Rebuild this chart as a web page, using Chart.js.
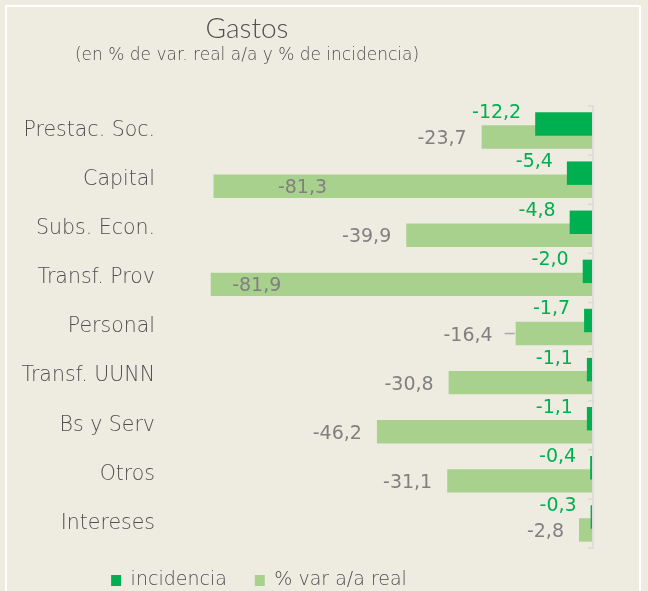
<!DOCTYPE html>
<html>
<head>
<meta charset="utf-8">
<script src="https://cdn.jsdelivr.net/npm/chart.js@4.4.1/dist/chart.umd.min.js"></script>
<style>
  html, body { margin: 0; padding: 0; background: #EEECE1; }
  #wrap { position: relative; width: 648px; height: 591px; overflow: hidden; }
  #frame { position: absolute; left: 5px; top: 5px; width: 632px; height: 640px; border: 2px solid #FFFFFF; }
  canvas { position: absolute; left: 0; top: 0; }
</style>
</head>
<body>
<div id="wrap">
  <div id="frame"></div>
  <canvas id="c" width="648" height="591"></canvas>
</div>
<script>
const categories = ['Prestac. Soc.', 'Capital', 'Subs. Econ.', 'Transf. Prov', 'Personal', 'Transf. UUNN', 'Bs y Serv', 'Otros', 'Intereses'];
const incidencia = [-12.2, -5.4, -4.8, -2.0, -1.7, -1.1, -1.1, -0.4, -0.3];
const varReal = [-23.7, -81.3, -39.9, -81.9, -16.4, -30.8, -46.2, -31.1, -2.8];
const seriesNames = ['incidencia', '% var a/a real'];

const DARK = '#00B050';
const LIGHT = '#A9D18E';
const GRAY = '#808080';
const TEXT = '#4F4F4F';
const FONT = '"DejaVu Sans", sans-serif';
const TFONT = 'Lato, "DejaVu Sans", sans-serif';

const fmt = v => v.toFixed(1).replace('.', ',');

const canvas = document.getElementById('c');
const ctx0 = canvas.getContext('2d');

const labelPlugin = {
  id: 'barLabels',
  afterDatasetsDraw(chart, args, opts) {
    const ctx = chart.ctx;
    ctx.save();
    ctx.font = '19px ' + FONT;
    ctx.textBaseline = 'middle';
    chart.data.datasets.forEach((ds, di) => {
      const meta = chart.getDatasetMeta(di);
      meta.data.forEach((bar, i) => {
        const v = ds.data[i];
        const txt = fmt(v);
        if (di === 0) {
          ctx.fillStyle = DARK;
          ctx.textAlign = 'right';
          ctx.fillText(txt, bar.x - 14, bar.y - 11);
        } else {
          ctx.fillStyle = GRAY;
          const p = (opts.placement || {})[i];
          if (p && p.inside !== undefined) {
            ctx.textAlign = 'center';
            ctx.fillText(txt, bar.x + p.inside, bar.y + 2);
          } else if (p && p.leader) {
            ctx.strokeStyle = '#A6A6A6';
            ctx.lineWidth = 1.5;
            ctx.beginPath();
            ctx.moveTo(bar.x - 1, bar.y);
            ctx.lineTo(bar.x - p.leader - 3, bar.y);
            ctx.stroke();
            ctx.textAlign = 'right';
            ctx.fillText(txt, bar.x - p.leader - 15, bar.y + 3);
          } else {
            ctx.textAlign = 'right';
            ctx.fillText(txt, bar.x - 15, bar.y + 2);
          }
        }
      });
    });
    ctx.restore();
  }
};

const axisPlugin = {
  id: 'zeroAxis',
  afterDatasetsDraw(chart) {
    const ctx = chart.ctx;
    const xs = chart.scales.x, ys = chart.scales.y;
    const x0 = xs.getPixelForValue(0);
    ctx.save();
    ctx.strokeStyle = '#D9D9D9';
    ctx.lineWidth = 1.5;
    ctx.beginPath();
    ctx.moveTo(x0 + 1, ys.top);
    ctx.lineTo(x0 + 1, ys.bottom);
    for (let i = 0; i <= categories.length; i++) {
      const y = ys.getPixelForValue(i - 0.5);
      ctx.moveTo(x0 - 4, y);
      ctx.lineTo(x0 + 2, y);
    }
    ctx.stroke();
    ctx.restore();
  }
};

// shift the title block and legend horizontally (they are centred left of the plot in the original)
const shiftPlugin = {
  id: 'shiftBoxes',
  afterLayout(chart, args, opts) {
    chart.boxes.forEach(b => {
      if (b instanceof Chart.Scale) return;
      if (b === chart.legend) {
        b.left += opts.legendDx; b.right += opts.legendDx;
        b.top += opts.legendDy; b.bottom += opts.legendDy;
      } else if (b.position === 'top') {
        b.left += opts.titleDx; b.right += opts.titleDx;
      }
    });
  }
};

new Chart(ctx0, {
  type: 'bar',
  data: {
    labels: categories,
    datasets: [
      { label: seriesNames[0], data: incidencia, backgroundColor: DARK, categoryPercentage: 0.53, barPercentage: 1.8 },
      { label: seriesNames[1], data: varReal, backgroundColor: LIGHT, categoryPercentage: 0.53, barPercentage: 1.8 }
    ]
  },
  options: {
    indexAxis: 'y',
    responsive: false,
    animation: false,
    layout: { padding: { left: 0, right: 56, top: 10, bottom: -14 } },
    scales: {
      x: {
        min: -90, max: 0,
        display: false,
        grid: { display: false }
      },
      y: {
        grid: { display: false, drawTicks: false },
        border: { display: false },
        ticks: { color: TEXT, font: { family: FONT, size: 20.5, weight: 200 }, padding: 18 },
        afterFit(scale) { scale.width = 173; }
      }
    },
    plugins: {
      title: {
        display: true, text: 'Gastos', color: TEXT,
        font: { family: TFONT, size: 28, weight: 300 },
        padding: { top: 2, bottom: 0 }
      },
      subtitle: {
        display: true, text: '(en % de var. real a/a y % de incidencia)', color: TEXT,
        font: { family: FONT, size: 17, weight: 200 },
        padding: { top: 0, bottom: 40 }
      },
      legend: {
        position: 'bottom',
        labels: {
          color: TEXT, font: { family: FONT, size: 19, weight: 200 },
          boxWidth: 10, boxHeight: 11, padding: 28
        }
      },
      tooltip: { enabled: false },
      barLabels: { placement: { 1: { inside: 89 }, 3: { inside: 46 }, 4: { leader: 8 } } },
      shiftBoxes: { titleDx: -49, legendDx: -37, legendDy: -5 }
    }
  },
  plugins: [labelPlugin, axisPlugin, shiftPlugin]
});
</script>
</body>
</html>
